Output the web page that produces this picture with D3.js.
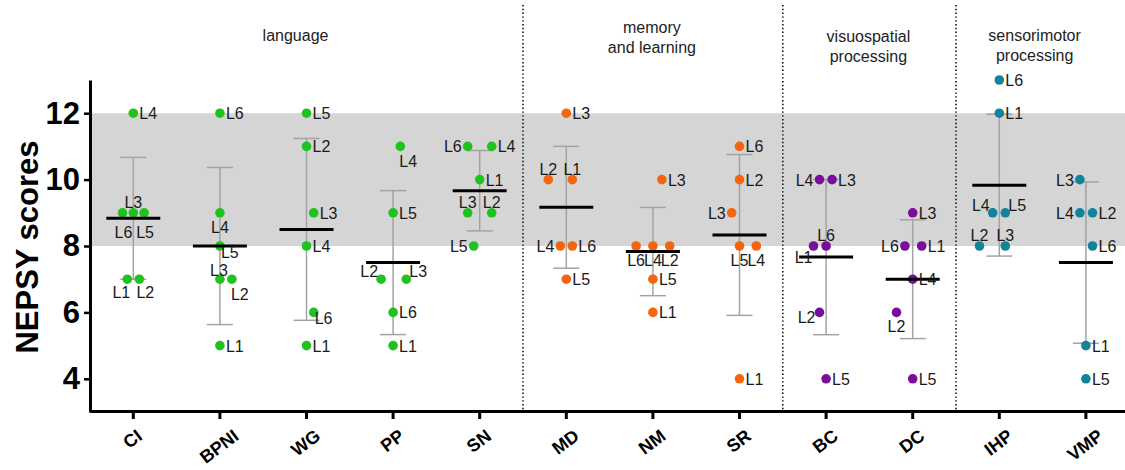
<!DOCTYPE html>
<html>
<head>
<meta charset="utf-8">
<script src="https://cdn.jsdelivr.net/npm/d3@7"></script>
<style>
  html, body { margin: 0; padding: 0; background: #fff; }
  svg { display: block; font-family: "Liberation Sans", Arial, sans-serif; }
</style>
</head>
<body>
<svg id="chart" width="1125" height="470"></svg>
<script>
// ---------- data ----------
const categories = ["CI","BPNI","WG","PP","SN","MD","NM","SR","BC","DC","IHP","VMP"];
const categoryDomain = ["language","language","language","language","language",
  "memory","memory","memory","visuo","visuo","sensori","sensori"];
const subjects = ["L1","L2","L3","L4","L5","L6"];

// NEPSY scores per subject, in category order
const L1 = [7, 5, 5, 5, 10, 10, 6, 4, 8, 8, 12, 5];
const L2 = [7, 7, 11, 7, 9, 10, 8, 10, 6, 6, 8, 9];
const L3 = [9, 7, 9, 7, 9, 12, 10, 9, 10, 9, 8, 10];
const L4 = [12, 9, 8, 11, 11, 8, 8, 8, 10, 7, 9, 9];
const L5 = [9, 8, 12, 9, 8, 7, 7, 8, 4, 4, 9, 4];
const L6 = [9, 12, 6, 6, 11, 8, 8, 11, 8, 8, 13, 8];
const seriesValues = [L1, L2, L3, L4, L5, L6];

// horizontal jitter slot of each dot
const J1 = [-1, 0, 0, 0, 0, 1, 0, 0, -2.1, 1.5, 0, 0];
const J2 = [1, 2, 0, -2, 2, -3, 2.8, 0, -1.1, -2.7, -3.3, 1.1];
const J3 = [0, 0, 1.2, 2.2, -2, 0, 1.5, -1.3, 1, 0, 1, -1];
const J4 = [0, 0, 0, 1.2, 2, -1, 0, 2.8, -1.1, 0, -1.1, -1];
const J5 = [1.8, 0, 0, 0, -1, 0, 0, 0, 0, 0, 1, 0];
const J6 = [-1.8, 0, 1.2, 0, -2, 1, -2.8, 0, 0, -1.3, 0, 1.1];
const jitterSlots = [J1, J2, J3, J4, J5, J6];

// side on which each point label sits
const P1 = ["bL","r","r","r","r","t","r","r","bl2","r","r","r"];
const P2 = ["bR","br2","r","tl","t","t","b","r","bl","b","t","r"];
const P3 = ["t","t2","r","tr","t","r","r","l","r","r","t","l"];
const P4 = ["r","b","r","br2","r","l","b","b","l","r","tl","l"];
const P5 = ["b2","br","r","r","l","r","r","b","r","r","tr","r"];
const P6 = ["b2","r","br","r","l","r","b","r","t","l","r","r"];
const labelSides = [P1, P2, P3, P4, P5, P6];

const yTicks = [4, 6, 8, 10, 12];
const normalRange = [8, 12];
const groups = [
  {key: "language", lines: ["language"], first: "CI", last: "SN", nudge: -11, y0: 41},
  {key: "memory", lines: ["memory", "and learning"], first: "MD", last: "SR", nudge: -1, y0: 33},
  {key: "visuo", lines: ["visuospatial", "processing"], first: "BC", last: "DC", nudge: -1, y0: 42},
  {key: "sensori", lines: ["sensorimotor", "processing"], first: "IHP", last: "VMP", nudge: -8, y0: 41}
];
const groupColors = {language: "#1fc21f", memory: "#f5640e", visuo: "#7a0e9c", sensori: "#13829b"};

// ---------- drawing ----------
const W = 1125, H = 470;
const svg = d3.select("#chart");
const x = d3.scaleBand().domain(categories).range([90, 1129.2]).padding(0);
const y = d3.scaleLinear().domain([3, 13]).range([412, 80]);
const cx = c => x(c) + x.bandwidth() / 2;
const JIT = 6, R = 4.8;

// normal range band
svg.append("rect")
  .attr("x", 90).attr("width", W - 90)
  .attr("y", y(normalRange[1])).attr("height", y(normalRange[0]) - y(normalRange[1]))
  .attr("fill", "#d5d5d5");

// separators between domains
const sepCats = ["MD", "BC", "IHP"];
svg.selectAll("line.sep").data(sepCats).join("line")
  .attr("class", "sep")
  .attr("x1", d => x(d)).attr("x2", d => x(d))
  .attr("y1", 5).attr("y2", 410)
  .attr("stroke", "#111").attr("stroke-width", 1.6)
  .attr("stroke-dasharray", "1.4,2.4");

// group headers
groups.forEach(g => {
  const gx = (cx(g.first) + cx(g.last)) / 2 + g.nudge;
  const t = svg.append("text")
    .attr("x", gx).attr("y", g.y0)
    .attr("text-anchor", "middle")
    .attr("font-size", 16).attr("fill", "#222");
  g.lines.forEach((ln, i) => {
    t.append("tspan").attr("x", gx).attr("dy", i === 0 ? 0 : 20).text(ln);
  });
});

// statistics per category
const stats = categories.map((c, i) => {
  const vals = seriesValues.map(s => s[i]);
  const m = d3.mean(vals), sd = d3.deviation(vals);
  return {c, m, sd};
});

// error bars (mean ± SD)
const eb = svg.append("g").attr("stroke", "#a3a3a3").attr("stroke-width", 1.5).attr("fill", "none");
stats.forEach(s => {
  const X = cx(s.c);
  eb.append("line").attr("x1", X).attr("x2", X).attr("y1", y(s.m + s.sd)).attr("y2", y(s.m - s.sd));
  eb.append("line").attr("x1", X - 13).attr("x2", X + 13).attr("y1", y(s.m + s.sd)).attr("y2", y(s.m + s.sd));
  eb.append("line").attr("x1", X - 13).attr("x2", X + 13).attr("y1", y(s.m - s.sd)).attr("y2", y(s.m - s.sd));
});

// points
const points = [];
subjects.forEach((sub, si) => {
  categories.forEach((c, ci) => {
    points.push({
      sub, c, v: seriesValues[si][ci],
      j: jitterSlots[si][ci], side: labelSides[si][ci],
      color: groupColors[categoryDomain[ci]]
    });
  });
});

svg.append("g").selectAll("circle").data(points).join("circle")
  .attr("cx", d => cx(d.c) + d.j * JIT)
  .attr("cy", d => y(d.v))
  .attr("r", R)
  .attr("fill", d => d.color);

// mean lines
svg.append("g").selectAll("line").data(stats).join("line")
  .attr("x1", d => cx(d.c) - 27).attr("x2", d => cx(d.c) + 27)
  .attr("y1", d => y(d.m)).attr("y2", d => y(d.m))
  .attr("stroke", "#000").attr("stroke-width", 3);

// point labels
const sideSpec = {
  r:   {dx: 6,  dy: 6,   a: "start"},
  l:   {dx: -6, dy: 6,   a: "end"},
  t:   {dx: 0,  dy: -5,  a: "middle"},
  t2:  {dx: -1, dy: -3,  a: "middle"},
  b:   {dx: 0,  dy: 20,  a: "middle"},
  b2:  {dx: 1,  dy: 25,  a: "middle"},
  bL:  {dx: -6, dy: 19,  a: "middle"},
  bR:  {dx: 6,  dy: 19,  a: "middle"},
  br:  {dx: 1,  dy: 12,  a: "start"},
  br2: {dx: -1, dy: 21,  a: "start"},
  bl:  {dx: -4, dy: 11,  a: "end"},
  bl2: {dx: -1, dy: 17,  a: "end"},
  tl:  {dx: -3, dy: -2,  a: "end"},
  tr:  {dx: 3,  dy: -2,  a: "start"}
};
svg.append("g").selectAll("text").data(points).join("text")
  .attr("x", d => cx(d.c) + d.j * JIT + sideSpec[d.side].dx)
  .attr("y", d => y(d.v) + sideSpec[d.side].dy)
  .attr("text-anchor", d => sideSpec[d.side].a)
  .attr("font-size", 16).attr("fill", "#1a1a1a")
  .text(d => d.sub);

// y axis
const yAxis = svg.append("g").attr("transform", "translate(90,0)")
  .call(d3.axisLeft(y).tickValues(yTicks).tickSize(6).tickSizeOuter(0).tickPadding(4).tickFormat(d3.format("d")));
yAxis.select(".domain").attr("stroke", "#000").attr("stroke-width", 3);
yAxis.selectAll(".tick line").attr("stroke", "#000").attr("stroke-width", 2.5);
yAxis.selectAll(".tick text").attr("font-size", 31).attr("font-weight", "bold")
  .attr("font-family", "'Liberation Sans', Arial, sans-serif").attr("fill", "#000");

svg.append("text")
  .attr("transform", "translate(38,247) rotate(-90)")
  .attr("text-anchor", "middle")
  .attr("font-size", 31).attr("font-weight", "bold").attr("fill", "#000")
  .text("NEPSY scores");

// x axis (ticks and line from the axis; labels drawn separately so they can be rotated)
const xAxis = svg.append("g").attr("transform", "translate(0,411)")
  .call(d3.axisBottom(x).tickSize(8).tickSizeOuter(0).tickFormat(""));
xAxis.select(".domain").attr("stroke", "#000").attr("stroke-width", 3);
xAxis.selectAll(".tick line").attr("stroke", "#000").attr("stroke-width", 3);

const DEG = 37, ANG = DEG * Math.PI / 180;
const xl = svg.append("g").attr("class", "xlabels");
categories.forEach(c => {
  const t = xl.append("text")
    .attr("font-size", 18).attr("font-weight", "bold").attr("fill", "#000")
    .attr("text-anchor", "middle").attr("dy", "0.36em")
    .text(c);
  const L = t.node().getComputedTextLength();
  const h = 13;
  const half = (L * Math.sin(ANG) + h * Math.cos(ANG)) / 2;
  t.attr("transform", `translate(${cx(c) - 1},${428 + half}) rotate(${-DEG})`);
});
</script>
</body>
</html>
